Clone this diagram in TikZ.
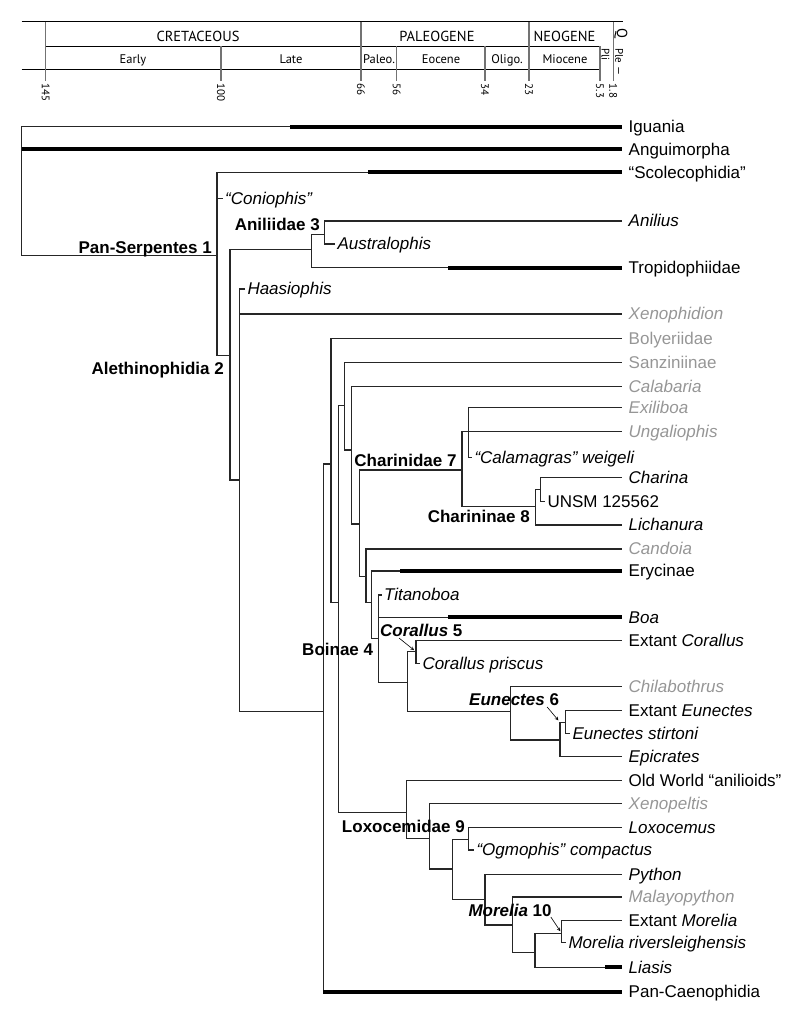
\documentclass[tikz,border=0pt]{standalone}
\usepackage{fontspec}
\setmainfont{Liberation Sans}
\newfontfamily\geofont{PT Sans}
\newcommand\tipfont{\fontsize{17}{20}\selectfont}
\definecolor{extgray}{RGB}{150,150,150}
\tikzset{br/.style = {line width=1.15pt, draw=black!85},
           thk/.style = {line width=4pt, draw=black},
           tip/.style = {anchor=west, inner xsep=7pt, inner ysep=0pt, outer sep=0pt, text height=11.5pt, text depth=0pt, font=\tipfont},
           ftip/.style = {tip, inner xsep=2.5pt},
           ext/.style = {text=extgray},
           clade/.style = {inner sep=0pt, font=\tipfont\bfseries},
           ptr/.style = {->, line width=0.6pt, shorten >=2.5pt},
           hz/.style = {line width=1pt},
           vt/.style = {line width=1.4pt, draw=black!55},
           per/.style = {anchor=base, inner sep=0pt, font=\geofont\fontsize{14.5}{16}\selectfont},
           epo/.style = {anchor=base, inner sep=0pt, font=\geofont\fontsize{12.5}{14}\selectfont},
           age/.style = {rotate=-90, anchor=west, inner sep=0pt, font=\geofont\fontsize{11}{13}\selectfont}}

\begin{document}
\begin{tikzpicture}[x=1pt, y=-1pt, >=stealth]
    \useasboundingbox (0,0) rectangle (800,1035);
    % time scale
    \draw[hz] (21.7,21.7) -- (623,21.7);
    \draw[hz] (45.7,46.3) -- (600,46.3);
    \draw[hz] (21.7,69.3) -- (600,69.3);
    \foreach \x/\t/\a/\n in {45.7/21.7/145/a, 221/46.3/100/b, 361/21.7/66/c, 396.7/46.3/56/d,
                             485/46.3/34/e, 529/21.7/23/f, 600/46.3/5.3/g, 613.3/21.7/1.8/h}
      {\draw[vt] (\x,\t) -- (\x,81);
       \node[age] (age\n) at (\x,83.5) {\a};}
    \node[per] (cre) at (198,41.7) {CRETACEOUS};
    \node[per] (pal) at (437,41.7) {PALEOGENE};
    \node[per] (neo) at (564.5,41.7) {NEOGENE};
    \node[per, anchor=center, rotate=-90] (qua) at (621,33) {Q};
    \node[epo] (ear) at (133,64) {Early};
    \node[epo] (lat) at (291,64) {Late};
    \node[epo] (pao) at (379,64) {Paleo.};
    \node[epo] (eoc) at (441,64) {Eocene};
    \node[epo] (oli) at (507,64) {Oligo.};
    \node[epo] (mio) at (565,64) {Miocene};
    \node[age, anchor=center] (pli) at (605.5,54.5) {Pli};
    \node[age] (ple) at (619.3,48) {Ple —};

    % terminal taxa
    \node[tip] (igu) at (621.7,126.7) {Iguania};
    \node[tip] (ang) at (621.7,149.3) {Anguimorpha};
    \node[tip] (sco) at (621.7,172.3) {“Scolecophidia”};
    \node[ftip] (con) at (222.7,198.3) {\textit{“Coniophis”}};
    \node[tip] (ani) at (621.7,221) {\textit{Anilius}};
    \node[ftip] (aus) at (335,244) {\textit{Australophis}};
    \node[tip] (tro) at (621.7,267.7) {Tropidophiidae};
    \node[ftip] (haa) at (245,289) {\textit{Haasiophis}};
    \node[tip, ext] (xph) at (621.7,314) {\textit{Xenophidion}};
    \node[tip, ext] (bol) at (621.7,338.3) {Bolyeriidae};
    \node[tip, ext] (san) at (621.7,362.5) {Sanziniinae};
    \node[tip, ext] (cal) at (621.7,386.7) {\textit{Calabaria}};
    \node[tip, ext] (exi) at (621.7,407.7) {\textit{Exiliboa}};
    \node[tip, ext] (ung) at (621.7,431.3) {\textit{Ungaliophis}};
    \node[ftip] (clm) at (472,457.3) {\textit{“Calamagras” weigeli}};
    \node[tip] (chr) at (621.7,477.7) {\textit{Charina}};
    \node[ftip] (uns) at (545,501.7) {UNSM 125562};
    \node[tip] (lic) at (621.7,525) {\textit{Lichanura}};
    \node[tip, ext] (cnd) at (621.7,549) {\textit{Candoia}};
    \node[tip] (ery) at (621.7,571) {Erycinae};
    \node[ftip] (tit) at (381.5,595) {\textit{Titanoboa}};
    \node[tip] (boa) at (621.7,617.3) {\textit{Boa}};
    \node[tip] (xco) at (621.7,640.7) {Extant \textit{Corallus}};
    \node[ftip] (cpr) at (420,663.3) {\textit{Corallus priscus}};
    \node[tip, ext] (chi) at (621.7,686.7) {\textit{Chilabothrus}};
    \node[tip] (xeu) at (621.7,710.7) {Extant \textit{Eunectes}};
    \node[ftip] (est) at (570,733.3) {\textit{Eunectes stirtoni}};
    \node[tip] (epi) at (621.7,756.7) {\textit{Epicrates}};
    \node[tip] (owa) at (621.7,780.7) {Old World “anilioids”};
    \node[tip, ext] (xpt) at (621.7,803.3) {\textit{Xenopeltis}};
    \node[tip] (lxc) at (621.7,827.7) {\textit{Loxocemus}};
    \node[ftip] (ogm) at (474,850) {\textit{“Ogmophis” compactus}};
    \node[tip] (pyt) at (621.7,874.3) {\textit{Python}};
    \node[tip, ext] (mal) at (621.7,897) {\textit{Malayopython}};
    \node[tip] (xmo) at (621.7,920.7) {Extant \textit{Morelia}};
    \node[ftip] (mri) at (566,942.3) {\textit{Morelia riversleighensis}};
    \node[tip] (lia) at (621.7,967.3) {\textit{Liasis}};
    \node[tip] (pca) at (621.7,991.7) {Pan-Caenophidia};

    % internal nodes
    \coordinate (root) at (21.7,149.3);
    \coordinate (ps) at (217,255.7);
    \coordinate (al) at (230,355.7);
    \coordinate (at) at (311.7,249.3);
    \coordinate (an) at (324.3,234.3);
    \coordinate (mc) at (239.3,480);
    \coordinate (ca) at (323.3,711.7);
    \coordinate (cb) at (331,464);
    \coordinate (cd) at (338.3,602.7);
    \coordinate (ce) at (344.3,405.7);
    \coordinate (cf) at (351.7,450);
    \coordinate (cg) at (359.3,524);
    \coordinate (chd) at (462,470);
    \coordinate (cy) at (468.3,431.3);
    \coordinate (chn) at (535.7,506.7);
    \coordinate (ch2) at (540.7,489.3);
    \coordinate (ch) at (366,576.7);
    \coordinate (ci) at (371.7,602.7);
    \coordinate (boi) at (378.3,638.3);
    \coordinate (ck) at (407.7,682.7);
    \coordinate (cor) at (416,651.7);
    \coordinate (cm) at (510.7,711.7);
    \coordinate (cn) at (560,740);
    \coordinate (eun) at (565.7,722.3);
    \coordinate (cp) at (406.7,812.3);
    \coordinate (cq) at (429.3,838.3);
    \coordinate (cr) at (452.7,869);
    \coordinate (lox) at (468.3,839.3);
    \coordinate (ct) at (485,899.3);
    \coordinate (cu) at (512.3,925);
    \coordinate (cv) at (535,952.3);
    \coordinate (mor) at (561.7,933.3);

    % branches
    \draw[br] (igu.west) -| (root) |- (ps);
    \draw[br] (sco.west) -| (ps) |- (al);
    \draw[br] (ps |- con) -- (con.west);
    \draw[br] (at) -| (al) |- (mc);
    \draw[br] (an) -| (at) |- (tro.west);
    \draw[br] (ani.west) -| (an) |- (aus.west);
    \draw[br] (haa.west) -| (mc) |- (ca);
    \draw[br] (mc |- xph) -- (xph.west);
    \draw[br] (cb) -| (ca) |- (pca.west);
    \draw[br] (bol.west) -| (cb) |- (cd);
    \draw[br] (ce) -| (cd) |- (cp);
    \draw[br] (san.west) -| (ce) |- (cf);
    \draw[br] (cal.west) -| (cf) |- (cg);
    \draw[br] (chd) -| (cg) |- (ch);
    \draw[br] (cy) -| (chd) |- (chn);
    \draw[br] (exi.west) -| (cy) |- (clm.west);
    \draw[br] (cy) -- (ung.west);
    \draw[br] (ch2) -| (chn) |- (lic.west);
    \draw[br] (chr.west) -| (ch2) |- (uns.west);
    \draw[br] (cnd.west) -| (ch) |- (ci);
    \draw[br] (ery.west) -| (ci) |- (boi);
    \draw[br] (tit.west) -| (boi) |- (ck);
    \draw[br] (boi |- boa) -- (boa.west);
    \draw[br] (cor) -| (ck) |- (cm);
    \draw[br] (xco.west) -| (cor) |- (cpr.west);
    \draw[br] (chi.west) -| (cm) |- (cn);
    \draw[br] (eun) -| (cn) |- (epi.west);
    \draw[br] (xeu.west) -| (eun) |- (est.west);
    \draw[br] (owa.west) -| (cp) |- (cq);
    \draw[br] (xpt.west) -| (cq) |- (cr);
    \draw[br] (lox) -| (cr) |- (ct);
    \draw[br] (lxc.west) -| (lox) |- (ogm.west);
    \draw[br] (pyt.west) -| (ct) |- (cu);
    \draw[br] (mal.west) -| (cu) |- (cv);
    \draw[br] (mor) -| (cv) |- (lia.west);
    \draw[br] (xmo.west) -| (mor) |- (mri.west);

    % fossil ranges
    \draw[thk] (root) -- (ang.west);
    \draw[thk] (igu.west) -- ++(-331.7,0);
    \draw[thk] (sco.west) -- ++(-253.7,0);
    \draw[thk] (tro.west) -- ++(-173.7,0);
    \draw[thk] (ery.west) -- ++(-221.7,0);
    \draw[thk] (boa.west) -- ++(-173.4,0);
    \draw[thk] (lia.west) -- ++(-16.7,0);
    \draw[thk] (ca |- pca) -- (pca.west);

    % clade labels
    \node[clade, anchor=base east] (lps) at (212,253.3) {Pan-Serpentes 1};
    \node[clade, anchor=base east] (lal) at (224,374.3) {Alethinophidia 2};
    \node[clade, anchor=base east] (lan) at (320,230) {Aniliidae 3};
    \node[clade, anchor=base east] (lbo) at (373.3,655) {Boinae 4};
    \node[clade, anchor=base west] (lcor) at (380,636) {\textit{Corallus} 5};
    \node[clade, anchor=base west] (leun) at (469,705) {\textit{Eunectes} 6};
    \node[clade, anchor=base east] (lchd) at (456.7,466) {Charinidae 7};
    \node[clade, anchor=base east] (lchn) at (530,522.7) {Charininae 8};
    \node[clade, anchor=base east] (llox) at (465,832.7) {Loxocemidae 9};
    \node[clade, anchor=base west] (lmor) at (468.3,916) {\textit{Morelia} 10};
    \draw[ptr] ([xshift=19pt,yshift=-2pt]lcor.base west) -- (cor);
    \draw[ptr] ([xshift=-12pt,yshift=-2pt]leun.base east) -- (cn |- eun);
    \draw[ptr] ([xshift=-1pt,yshift=-1pt]lmor.base east) -- (mor);
\end{tikzpicture}
\end{document}
